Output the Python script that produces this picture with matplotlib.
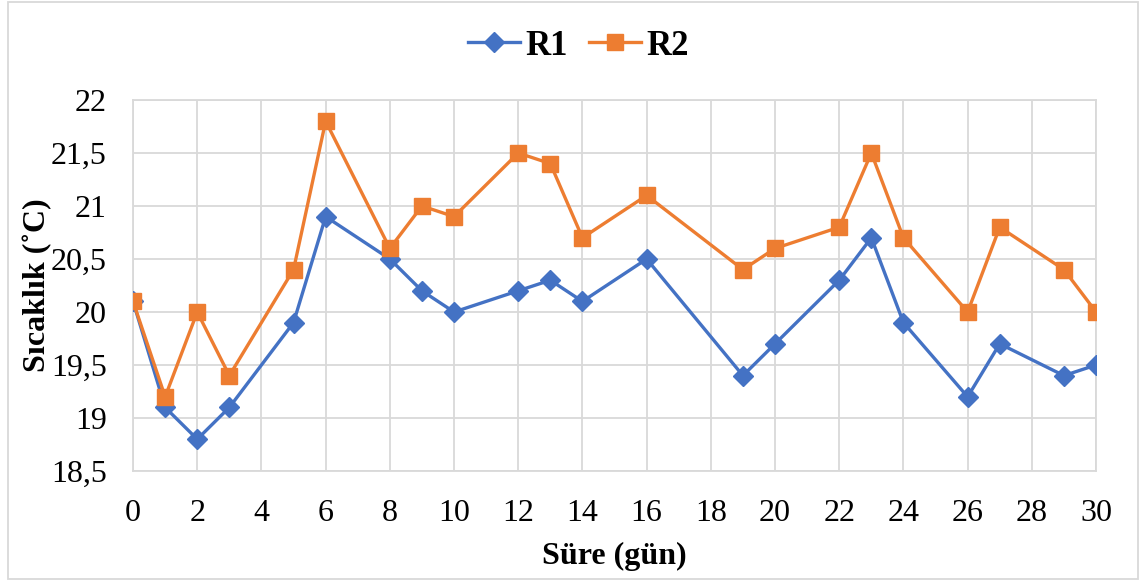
import matplotlib
matplotlib.use('Agg')
import matplotlib.pyplot as plt
import numpy as np

# ölçüm günleri ve sıcaklıklar
gun = [0, 1, 2, 3, 5, 6, 8, 9, 10, 12, 13, 14, 16, 19, 20, 22, 23, 24, 26, 27, 29, 30]
r1 = [20.1, 19.1, 18.8, 19.1, 19.9, 20.9, 20.5, 20.2, 20.0, 20.2, 20.3, 20.1, 20.5,
      19.4, 19.7, 20.3, 20.7, 19.9, 19.2, 19.7, 19.4, 19.5]
r2 = [20.1, 19.2, 20.0, 19.4, 20.4, 21.8, 20.6, 21.0, 20.9, 21.5, 21.4, 20.7, 21.1,
      20.4, 20.6, 20.8, 21.5, 20.7, 20.0, 20.8, 20.4, 20.0]
x_ticks = np.arange(0, 31, 2)
y_ticks = [18.5, 19, 19.5, 20, 20.5, 21, 21.5, 22]

plt.rcParams['font.family'] = ['Liberation Serif', 'DejaVu Serif']

fig = plt.figure(figsize=(11.41, 5.81), dpi=100)
ax = fig.add_axes([0.1166, 0.1893, 0.844, 0.6386])

ax.plot(gun, r1, color='#4472C4', lw=2.4, marker='D', ms=10, label='R1', zorder=3)
ax.plot(gun, r2, color='#ED7D31', lw=2.4, marker='s', ms=12, label='R2', zorder=3)

ax.set_xlim(0, 30)
ax.set_ylim(18.5, 22)
ax.set_xticks(x_ticks)
ax.set_yticks(y_ticks)
ax.set_yticklabels([('%g' % v).replace('.', ',') for v in y_ticks])
ax.tick_params(axis='both', length=0, labelsize=23, colors='black')
ax.tick_params(axis='x', pad=20)
ax.tick_params(axis='y', pad=19)
ax.grid(True, color='#D9D9D9', lw=1.3)
ax.set_axisbelow(True)
for s in ax.spines.values():
    s.set_color('#D9D9D9')
    s.set_linewidth(1.3)
for lab in ax.get_xticklabels() + ax.get_yticklabels():
    lab.set_clip_on(False)

ax.set_xlabel('Süre (gün)', fontsize=23, fontweight='bold', labelpad=10)
ax.set_ylabel('Sıcaklık (˚C)', fontsize=23, fontweight='bold', labelpad=-1)

fig.legend(loc='upper center', bbox_to_anchor=(0.507, 1.003), ncol=2, frameon=False,
           prop={'size': 25, 'weight': 'bold'}, handlelength=1.5, columnspacing=0.6,
           handletextpad=0.15)

# dış çerçeve
fig.patches.append(plt.Rectangle((0.007, 0.003), 0.99, 0.994, transform=fig.transFigure,
                                 fill=False, edgecolor='#D9D9D9', lw=1.3))

fig.savefig('out.png', dpi=100)
